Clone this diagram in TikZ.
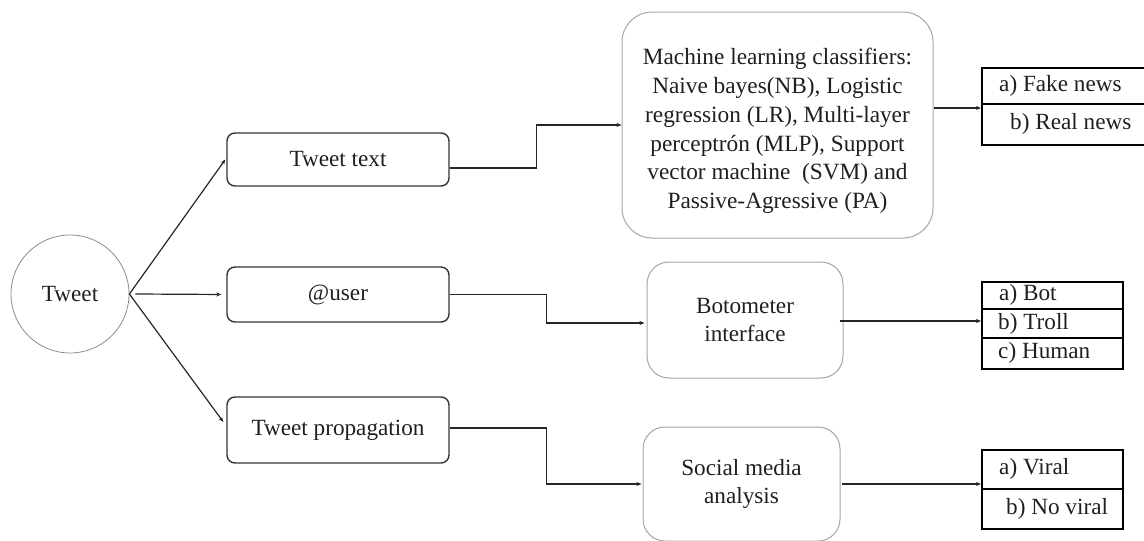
\documentclass[tikz,border=0pt]{standalone}
\usepackage{fontspec}
\setmainfont{Liberation Serif}
\usetikzlibrary{arrows.meta,calc}
\begin{document}
\begin{tikzpicture}[x=1pt,y=-1pt,
  every node/.style={font=\fontsize{23.2}{28.5}\selectfont, text=black!88, inner sep=0pt},
  arr/.style={draw=black!85, line width=1.2pt, -{Stealth[length=5pt,width=4pt]}},
  inbox/.style={draw=black!80, line width=1.4pt, rounded corners=8pt},
  procbox/.style={draw=black!35, line width=1pt, rounded corners=26pt, align=center},
  outframe/.style={draw=black, line width=2pt},
  rowline/.style={draw=black, line width=2pt}]
\useasboundingbox (0,0) rectangle (1144,541);

% source
\node[circle, draw=black!45, line width=0.8pt, minimum size=118pt] (tweet) at (70,294) {Tweet};

% input features
\node[inbox, minimum width=222pt, minimum height=53pt] (ttext) at (338,159.5) {\raisebox{-1.5pt}{Tweet text}};
\node[inbox, minimum width=222pt, minimum height=55pt] (user) at (338,294.5) {\raisebox{-2pt}{@user}};
\node[inbox, minimum width=222pt, minimum height=66pt] (prop) at (338,430) {\raisebox{-1pt}{Tweet propagation}};

% processing stages
\node[procbox, rounded corners=30pt, minimum width=311pt, minimum height=226pt] (ml) at (777.5,125) {};
\node[align=center, font=\fontsize{23.3}{28.7}\selectfont, yshift=-6pt] (mltext) at (ml.center)
  {Machine learning classifiers:\\Naive bayes(NB), Logistic\\regression (LR), Multi-layer\\perceptrón (MLP), Support\\vector machine~ (SVM) and\\Passive-Agressive (PA)};
\node[procbox, rounded corners=22pt, minimum width=196pt, minimum height=116pt] (bot) at (745,320) {Botometer\\interface};
\node[procbox, rounded corners=22pt, minimum width=197pt, minimum height=114pt] (soc) at (741.5,484) {Social media\\analysis};

% output tables
\node[outframe, minimum width=180pt, minimum height=77pt, anchor=north west] (out1) at (981,67) {};
\draw[rowline] (out1.west |- 0,104) -- (out1.east |- 0,104);
\node[anchor=west] (fake) at (999,85.5) {a) Fake news};
\node[anchor=west] (real) at (1010,124) {b) Real news};

\node[outframe, minimum width=141pt, minimum height=87pt, anchor=north west] (out2) at (981,281) {};
\draw[rowline] (out2.west |- 0,309) -- (out2.east |- 0,309);
\draw[rowline] (out2.west |- 0,338) -- (out2.east |- 0,338);
\node[anchor=west] (botl) at (999,295) {a) Bot};
\node[anchor=west] (troll) at (998,323.5) {b) Troll};
\node[anchor=west] (human) at (998,353) {c) Human};

\node[outframe, minimum width=141pt, minimum height=79pt, anchor=north west] (out3) at (981,449) {};
\draw[rowline] (out3.west |- 0,489) -- (out3.east |- 0,489);
\node[anchor=west] (viral) at (999,469) {a) Viral};
\node[anchor=west] (noviral) at (1006,508.5) {b) No viral};

% fan-out from the tweet
\draw[arr] (tweet.east) -- ([xshift=-1pt]ttext.west);
\draw[arr, shorten >=5pt] ([xshift=6pt]tweet.east) -- (user.west);
\draw[arr, shorten >=5pt] (tweet.east) -- ([yshift=4pt]prop.west);

% features to processing
\draw[arr] ([yshift=-8.5pt]ttext.east) -- ++(87,0) |- (ml.west);
\draw[arr] (user.east) -- ++(97,0) |- ([yshift=-3pt,xshift=-2pt]bot.west);
\draw[arr] ([yshift=2pt]prop.east) -- ++(97,0) |- ([xshift=-1pt]soc.west);

% processing to outputs
\draw[arr] ([yshift=17pt]ml.east) -- (out1.west |- 0,108);
\draw[arr] ([xshift=-4pt,yshift=-1pt]bot.east) -- (out2.west |- 0,321);
\draw[arr] ([xshift=1pt]soc.east) -- (out3.west |- 0,484);
\end{tikzpicture}
\end{document}
